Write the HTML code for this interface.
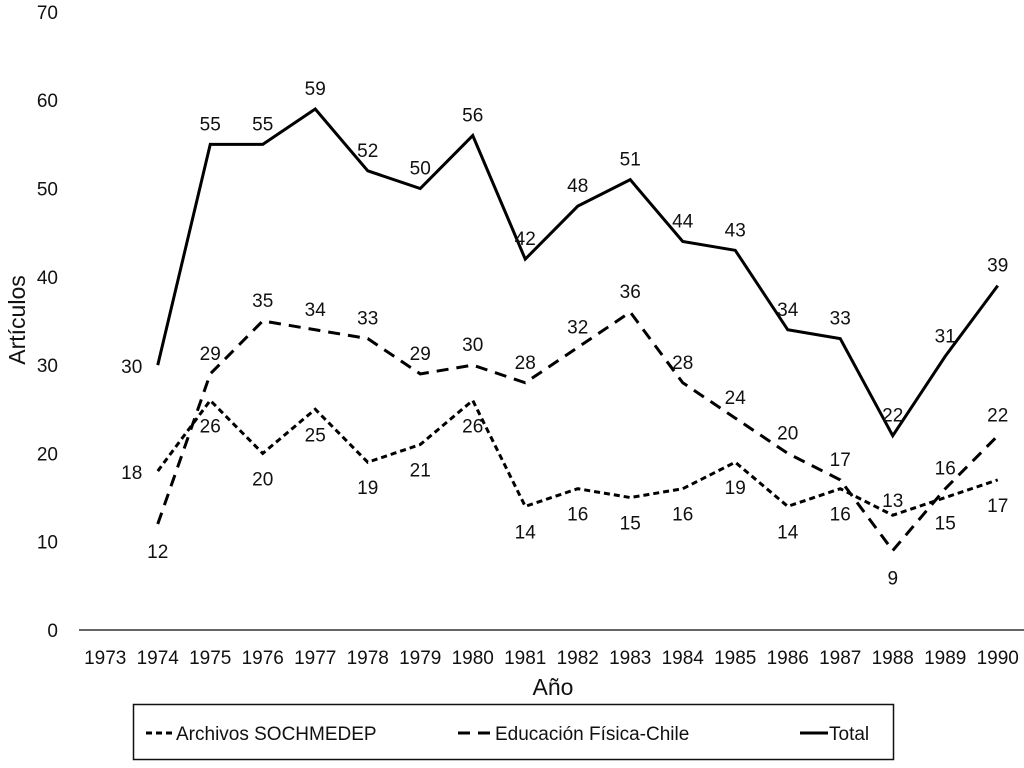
<!DOCTYPE html>
<html><head><meta charset="utf-8"><style>
body{margin:0;background:#fff;}
svg text{font-family:"Liberation Sans",sans-serif;fill:#111;}
</style></head><body>
<svg id="chart" width="1024" height="763">
<g id="axes"></g><g id="series"></g><g id="labels"></g>
<text x="25" y="320" font-size="23" text-anchor="middle" transform="rotate(-90 25 320)">Artículos</text>
<text x="553" y="695" font-size="23" text-anchor="middle">Año</text>
<g>
<rect x="133.5" y="704.5" width="760" height="55" fill="none" stroke="#111" stroke-width="1.5"/>
<line x1="146" y1="733" x2="172" y2="733" stroke="#000" stroke-width="3" stroke-dasharray="6,4"/>
<text x="176" y="740" font-size="19">Archivos SOCHMEDEP</text>
<line x1="458" y1="733" x2="492" y2="733" stroke="#000" stroke-width="3" stroke-dasharray="12,8"/>
<text x="495" y="740" font-size="19">Educación Física-Chile</text>
<line x1="800" y1="733" x2="828" y2="733" stroke="#000" stroke-width="3"/>
<text x="829" y="740" font-size="19">Total</text>
</g>
</svg>
<script>
const years=[1973,1974,1975,1976,1977,1978,1979,1980,1981,1982,1983,1984,1985,1986,1987,1988,1989,1990];
const yTicks=[0,10,20,30,40,50,60,70];
const serieYears=[1974,1975,1976,1977,1978,1979,1980,1981,1982,1983,1984,1985,1986,1987,1988,1989,1990];
const total=[30,55,55,59,52,50,56,42,48,51,44,43,34,33,22,31,39];
const archivos=[18,26,20,25,19,21,26,14,16,15,16,19,14,16,13,15,17];
const educacion=[12,29,35,34,33,29,30,28,32,36,28,24,20,17,9,16,22];
const NS='http://www.w3.org/2000/svg';
const x0=79,step=52.5,yb=630,ppu=8.83;
const xs=y=>x0+step*(years.indexOf(y)+0.5);
const ys=v=>yb-v*ppu;
function mk(t,a,p){const e=document.createElementNS(NS,t);for(const k in a)e.setAttribute(k,a[k]);document.getElementById(p).appendChild(e);return e;}
const ax=mk('line',{x1:x0,y1:yb,x2:1024,y2:yb,stroke:'#333','stroke-width':1.5},'axes');


yTicks.forEach(v=>{const t=mk('text',{x:58,y:ys(v)+7,'font-size':19,'text-anchor':'end'},'axes');t.textContent=v;

});
years.forEach(y=>{const t=mk('text',{x:xs(y),y:664,'font-size':19,'text-anchor':'middle'},'axes');t.textContent=y;

});
function series(vals,dash,name,pos,first){
 const d=vals.map((v,i)=>(i?'L':'M')+xs(serieYears[i])+','+ys(v)).join(' ');
 const p=mk('path',{d:d,fill:'none',stroke:'#000','stroke-width':3,'stroke-dasharray':dash},'series');
 
 
 vals.forEach((v,i)=>{let dx=0,dy=pos(i);if(i===0){dx=first[0];dy=first[1];}
  const t=mk('text',{x:xs(serieYears[i])+dx,y:ys(v)+dy,'font-size':19,'text-anchor':'middle'},'labels');t.textContent=v;
  
  });
}
series(total,'none','total-line',i=>-14,[-26,8]);
series(educacion,'12,8','educacion-line',i=>i===14?34:-14,[0,34]);
series(archivos,'6,4','archivos-line',i=>i===14?-8:32,[-26,8]);
</script>
</body></html>
